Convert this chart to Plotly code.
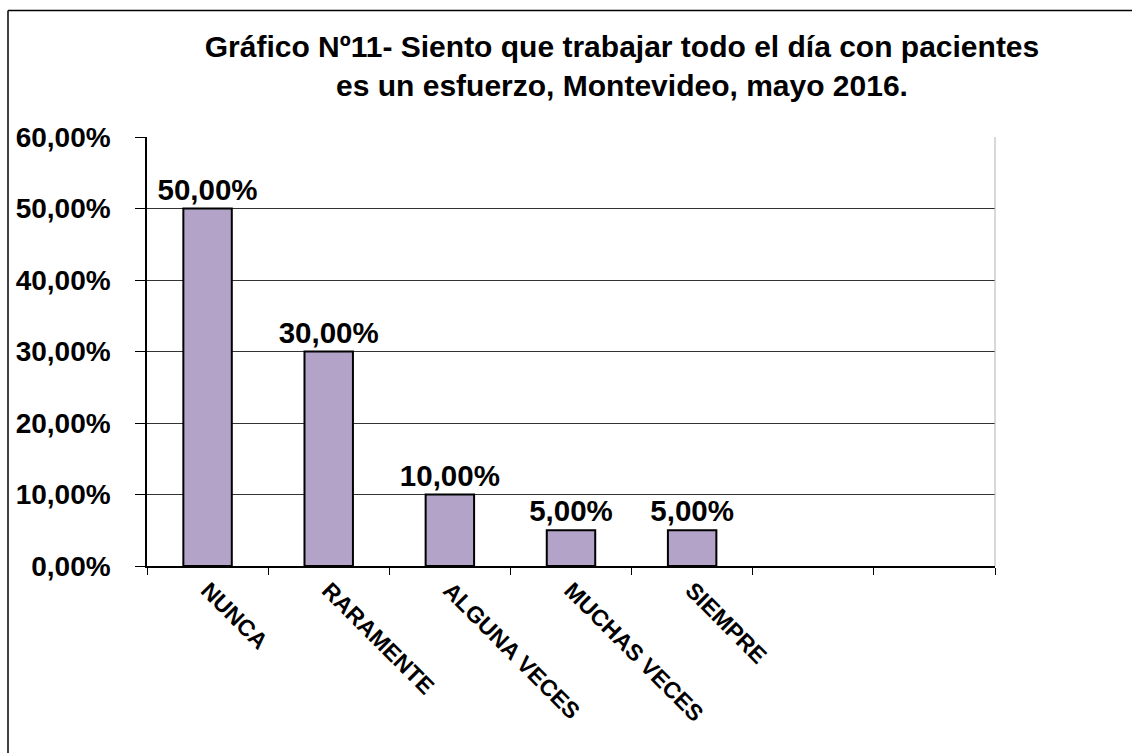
import plotly.graph_objects as go

categories = ["NUNCA", "RARAMENTE", "ALGUNA VECES", "MUCHAS VECES", "SIEMPRE"]
values = [0.50, 0.30, 0.10, 0.05, 0.05]
empty_slots = [" ", "  "]  # two empty category slots at the right, as in the original
y_ticks = [0, 0.1, 0.2, 0.3, 0.4, 0.5, 0.6]

W, H = 1132, 753
L, T = 147, 137
pw, ph = 848, 429
R, B = W - L - pw, H - T - ph

def px_x(p):
    return (p - L) / pw

def px_y(p):
    return (H - B - p) / ph

font = "Liberation Sans, Arial, sans-serif"

fig = go.Figure(
    go.Bar(
        x=categories,
        y=values,
        width=0.4,
        marker=dict(color="#B3A3C9", line=dict(color="black", width=2)),
        texttemplate="<b>%{y:.2%}</b>",
        textposition="outside",
        constraintext="none",
        textfont=dict(family=font, size=29.5, color="black"),
        cliponaxis=False,
    )
)

fig.update_layout(
    width=W,
    height=H,
    margin=dict(l=L, r=R, t=T, b=B),
    paper_bgcolor="white",
    plot_bgcolor="white",
    separators=",.",
    showlegend=False,
    font=dict(family=font, color="black"),
    title=dict(
        text="<b>Gráfico Nº11- Siento que trabajar todo el día con pacientes<br>es un esfuerzo, Montevideo, mayo 2016.</b>",
        x=622 / W,
        xanchor="center",
        xref="container",
        y=1 - 57 / H,
        yanchor="top",
        yref="container",
        font=dict(family=font, size=30, color="black"),
    ),
)

fig.update_xaxes(
    type="category",
    categoryorder="array",
    categoryarray=categories + empty_slots,
    range=[-0.5, len(categories) + len(empty_slots) - 0.5],
    tickson="boundaries",
    ticks="outside",
    ticklen=7,
    tickcolor="black",
    tickwidth=1,
    tickangle=45,
    tickfont=dict(family=font, size=23, color="black", weight="bold"),
    showline=True,
    linecolor="black",
    linewidth=1.5,
    showgrid=False,
    zeroline=False,
)

fig.update_yaxes(
    range=[0, 0.6],
    tickvals=y_ticks,
    tickformat=".2%",
    ticks="outside",
    ticklen=10,
    tickcolor="black",
    tickwidth=1,
    ticklabelstandoff=19,
    tickfont=dict(family=font, size=28, color="black", weight="bold"),
    showline=True,
    linecolor="black",
    linewidth=1.5,
    showgrid=True,
    gridcolor="#333333",
    gridwidth=1,
    zeroline=False,
)

# right edge of the plot area (light gray) and the chart's outer frame (left and top edges)
fig.add_shape(type="line", xref="paper", yref="paper", x0=1, x1=1, y0=0, y1=1,
              line=dict(color="#B0B0B0", width=1))
fig.add_shape(type="line", xref="paper", yref="paper",
              x0=px_x(8), x1=px_x(8), y0=px_y(H + 30), y1=px_y(10.5),
              line=dict(color="black", width=1.5), layer="below")
fig.add_shape(type="line", xref="paper", yref="paper",
              x0=px_x(8), x1=px_x(W + 30), y0=px_y(10.5), y1=px_y(10.5),
              line=dict(color="black", width=1.5), layer="below")

fig.write_html(
    "out.html",
    config={"displayModeBar": False},
    post_script="document.body.style.margin='0';document.body.style.overflow='hidden';",
)
